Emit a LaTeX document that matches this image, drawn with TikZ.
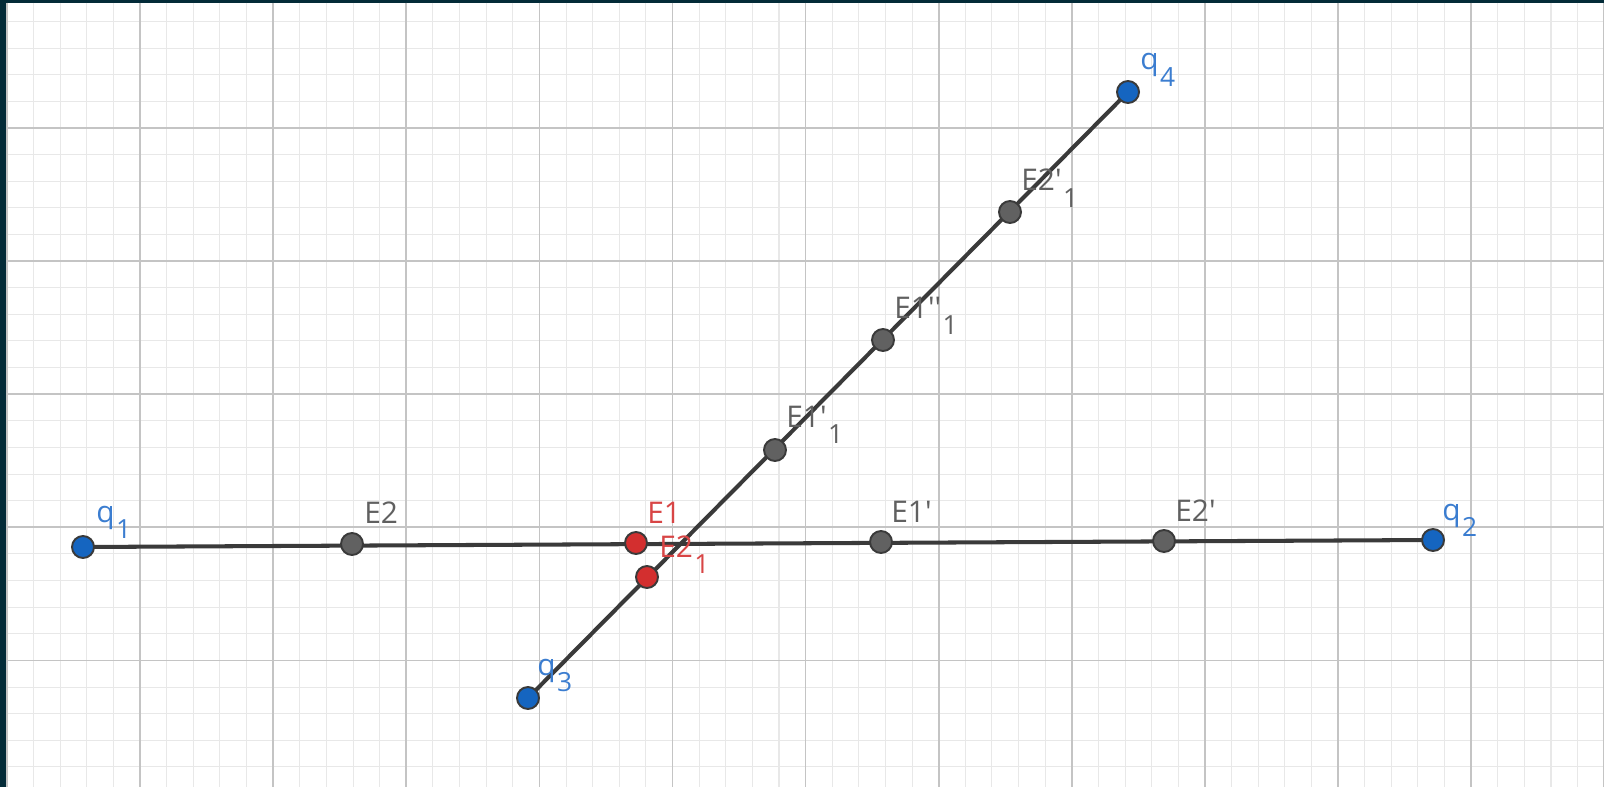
\documentclass[tikz,border=0pt]{standalone}
\usepackage{fontspec}
\setmainfont{Open Sans}
\usetikzlibrary{backgrounds}
\definecolor{ptblue}{HTML}{1565C0}
\definecolor{txtblue}{HTML}{3B7DD0}
\definecolor{ptred}{HTML}{D32F2F}
\definecolor{txtred}{HTML}{D84545}
\definecolor{ptgray}{HTML}{616161}
\definecolor{txtgray}{HTML}{606060}
\definecolor{segcol}{HTML}{3A3A3A}
\definecolor{framecol}{HTML}{032B38}
\definecolor{gridmajor}{HTML}{C4C4C4}
\definecolor{gridminor}{HTML}{E8E8E8}
\newcommand{\lowidx}[1]{\kern0.8pt\raisebox{-9.5pt}{\fontsize{15}{15}\selectfont #1}}
\newcommand{\prm}{\textquotesingle}
\pgfdeclarelayer{edges}
\pgfsetlayers{background,edges,main}

\begin{document}
\begin{tikzpicture}[x=0.02cm,y=-0.02cm,
    pt/.style={circle,draw=segcol,line width=1.1pt,inner sep=0pt,minimum size=0.44cm},
    lbl/.style={anchor=base west,inner sep=0pt,font=\fontsize{17}{17}\selectfont},
    seg/.style={segcol,line width=2.3pt}]
    \useasboundingbox (0,0) rectangle (1604,787);
    % background and grid
    \begin{pgfonlayer}{background}
    \fill[framecol] (0,0) rectangle (1604,787);
    \fill[white] (6,3) rectangle (1604,787);
    \foreach \i in {0,...,60}
      \draw[gridminor,line width=0.6pt] ({7+26.62*\i},3) -- ({7+26.62*\i},787);
    \foreach \j in {1,...,30}
      \draw[gridminor,line width=0.6pt] (6,{-5.1+26.62*\j}) -- (1604,{-5.1+26.62*\j});
    \foreach \i in {0,...,12}
      \draw[gridmajor,line width=1pt] ({7+133.1*\i},3) -- ({7+133.1*\i},787);
    \foreach \j in {1,...,6}
      \draw[gridmajor,line width=1pt] (6,{-5.1+133.1*\j}) -- (1604,{-5.1+133.1*\j});
    \end{pgfonlayer}

    % points on q1q2
    \node[pt,fill=ptblue] (q1) at (83,547) {};
    \node[pt,fill=ptgray] (e2) at (352,544) {};
    \node[pt,fill=ptred] (e1) at (636,543) {};
    \node[pt,fill=ptgray] (e1p) at (881,542) {};
    \node[pt,fill=ptgray] (e2p) at (1164,541) {};
    \node[pt,fill=ptblue] (q2) at (1433,540) {};
    % points on q3q4
    \node[pt,fill=ptblue] (q3) at (528,698) {};
    \node[pt,fill=ptred] (e2s) at (647,577) {};
    \node[pt,fill=ptgray] (e1ps) at (775,450) {};
    \node[pt,fill=ptgray] (e1pps) at (883,340) {};
    \node[pt,fill=ptgray] (e2ps) at (1010,212) {};
    \node[pt,fill=ptblue] (q4) at (1128,92) {};

    % segments
    \begin{pgfonlayer}{edges}
    \draw[seg] (q1.center) -- (q2.center);
    \draw[seg] (q3.center) -- (q4.center);
    \end{pgfonlayer}

    % labels
    \node[lbl,txtblue] (lq1) at (96,522) {q\lowidx{1}};
    \node[lbl,txtblue] (lq2) at (1442,520) {q\lowidx{2}};
    \node[lbl,txtblue] (lq3) at (537,675) {q\lowidx{3}};
    \node[lbl,txtblue] (lq4) at (1140,70) {q\lowidx{4}};
    \node[lbl,txtgray] (le2) at (364,523) {E2};
    \node[lbl,txtred] (le1) at (647,523) {E1};
    \node[lbl,txtgray] (le1p) at (891,522) {E1\prm};
    \node[lbl,txtgray] (le2p) at (1175,521) {E2\prm};
    \node[lbl,txtred] (le2s) at (659,557) {E2\lowidx{1}};
    \node[lbl,txtgray] (le1ps) at (786,427) {E1\prm\lowidx{1}};
    \node[lbl,txtgray] (le1pps) at (894,318) {E1\prm\prm\lowidx{1}};
    \node[lbl,txtgray] (le2ps) at (1021,191) {E2\prm\lowidx{1}};
\end{tikzpicture}
\end{document}
